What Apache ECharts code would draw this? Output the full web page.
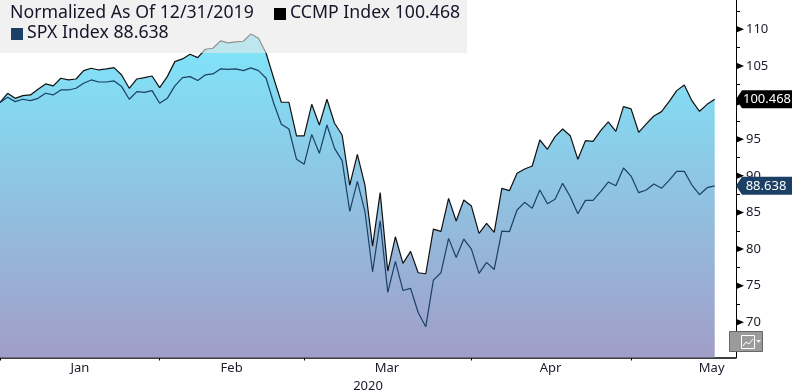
<!DOCTYPE html>
<html>
<head>
<meta charset="utf-8">
<style>
    html, body { margin: 0; padding: 0; background: #fff; }
    #main { width: 792px; height: 390px; }
</style>
<script src="https://cdn.jsdelivr.net/npm/echarts@6/dist/echarts.min.js"></script>
</head>
<body>
<div id="main"></div>
<script>
// 两条指数的归一化数值，每个交易日一个点，从 12/31/2019 开始
var ccmp_values = [
    100.00, 101.27, 100.58, 100.95, 101.04, 101.81, 102.54, 102.27, 103.32, 103.09,
    103.22, 104.36, 104.68, 104.45, 104.59, 104.77, 103.77, 101.95, 103.22, 103.41,
    103.63, 102.04, 103.54, 105.59, 105.96, 106.59, 106.14, 107.28, 107.41, 108.42,
    108.14, 108.28, 108.37, 109.37, 108.78, 106.73, 103.32, 100.05, 100.04, 95.44,
    95.44, 99.76, 96.94, 100.45, 97.17, 95.57, 88.74, 92.93, 88.74, 80.41,
    87.70, 77.00, 81.68, 78.04, 79.68, 76.77, 76.63, 82.73, 82.41, 86.92,
    83.83, 86.69, 85.87, 82.14, 83.51, 82.28, 88.29, 87.97, 90.34, 90.93,
    91.34, 94.89, 93.62, 95.35, 96.39, 95.48, 92.25, 94.80, 94.71, 96.17,
    97.35, 96.07, 99.44, 99.13, 95.94, 97.08, 98.17, 98.76, 100.13, 101.63,
    102.40, 100.26, 98.81, 99.76, 100.468
];
var spx_values = [
    100.00, 100.72, 100.13, 100.45, 100.26, 100.58, 101.27, 101.04, 101.72, 101.72,
    101.95, 102.63, 103.09, 102.81, 102.81, 102.95, 102.18, 100.45, 101.49, 101.40,
    101.63, 99.90, 100.58, 102.27, 103.41, 103.54, 103.00, 103.77, 103.91, 104.59,
    104.54, 104.59, 104.36, 104.73, 104.36, 103.32, 99.90, 97.03, 96.39, 92.25,
    91.57, 95.66, 93.07, 96.94, 93.75, 92.07, 85.15, 89.24, 85.10, 76.90,
    83.87, 74.08, 78.32, 74.35, 74.63, 71.35, 69.39, 75.77, 76.77, 81.46,
    78.86, 81.37, 80.00, 76.68, 78.18, 77.22, 82.46, 82.37, 85.33, 86.38,
    85.56, 88.06, 86.19, 86.79, 88.97, 87.15, 84.83, 86.65, 86.65, 87.83,
    89.15, 88.65, 91.07, 89.97, 87.70, 88.06, 88.88, 88.29, 89.38, 90.61,
    90.61, 88.74, 87.42, 88.38, 88.638
];

var month_names = ["Jan", "Feb", "Mar", "Apr", "May"];
var month_label_pos = [10.5, 30.46, 50.9, 72.4, 93.6]; // 月份文字的位置（交易日序号）
var month_end_ticks = [0, 21, 40, 62, 83]; // 每月最后一个交易日
var year_label = "2020";

var y_labels = [70, 75, 80, 85, 90, 95, 100, 105, 110];
var y_minor_ticks = [67.5, 70, 72.5, 75, 77.5, 80, 82.5, 85, 87.5, 90, 92.5, 95, 97.5, 100, 102.5, 105, 107.5, 110, 112.5];

var title_text = "Normalized As Of 12/31/2019";
var ccmp_name = "CCMP Index";
var spx_name = "SPX Index";
var ccmp_last = 100.468;
var spx_last = 88.638;

var x_last = 96.8; // 坐标轴右端，数据后面留一点空白
var font = "'Noto Sans', Tahoma, sans-serif";

function to_points(values) {
    var points = [];
    for (var i = 0; i < values.length; i++) {
        points.push([i, values[i]]);
    }
    return points;
}

var major_marks = [];
for (var i = 0; i < y_labels.length; i++) {
    major_marks.push([x_last, y_labels[i]]);
}

var myChart = echarts.init(document.getElementById('main'));

var option = {
    animation: false,
    textStyle: { fontFamily: font },
    grid: { left: 0, top: 0, width: 736, height: 357.5, outerBoundsMode: 'none' },
    xAxis: {
        type: 'value',
        min: 0,
        max: x_last,
        name: year_label,
        nameLocation: 'middle',
        nameGap: 16,
        nameTextStyle: { color: '#1a1a2a', fontSize: 13, fontFamily: font },
        splitLine: { show: false },
        axisLine: { lineStyle: { color: '#000', width: 1.5 } },
        axisTick: { customValues: month_end_ticks, length: 3, lineStyle: { color: '#000' } },
        axisLabel: {
            customValues: month_label_pos,
            margin: 4,
            color: '#1a1a2a',
            fontSize: 13,
            hideOverlap: false,
            formatter: function (value) {
                return month_names[month_label_pos.indexOf(value)];
            }
        }
    },
    yAxis: {
        type: 'value',
        position: 'right',
        min: 65.2,
        max: 114,
        splitLine: { show: false },
        axisLine: { show: true, onZero: false, lineStyle: { color: '#000', width: 1 } },
        axisTick: { customValues: y_minor_ticks, length: 4, lineStyle: { color: '#000' } },
        axisLabel: { customValues: y_labels, margin: 10, padding: [3, 0, 0, 0], color: '#1a1a2a', fontSize: 13 }
    },
    series: [
        {
            name: ccmp_name,
            type: 'line',
            data: to_points(ccmp_values),
            showSymbol: false,
            z: 3,
            lineStyle: { color: '#111', width: 1.2 },
            areaStyle: {
                opacity: 1,
                origin: 'start',
                color: {
                    type: 'linear',
                    global: true,
                    x: 0, y: 50, x2: 0, y2: 357,
                    colorStops: [
                        { offset: 0, color: '#80e3f8' },
                        { offset: 1, color: '#a19ec8' }
                    ]
                }
            }
        },
        {
            name: spx_name,
            type: 'line',
            data: to_points(spx_values),
            showSymbol: false,
            z: 4,
            lineStyle: { color: '#1c3f66', width: 1.2 }
        },
        {
            // 刻度旁的小三角
            type: 'scatter',
            data: major_marks,
            clip: false,
            silent: true,
            z: 5,
            symbol: 'path://M0 0 L8 4 L0 8 Z',
            symbolSize: [8, 7],
            symbolOffset: [4, 0],
            itemStyle: { color: '#000', opacity: 1 }
        },
        {
            type: 'scatter',
            data: [[x_last, ccmp_last]],
            clip: false,
            silent: true,
            z: 6,
            symbol: 'path://M6 0 L56 0 L56 18 L6 18 L0 9 Z',
            symbolSize: [56, 18],
            symbolOffset: [28, 0],
            itemStyle: { color: '#000', opacity: 1 },
            label: {
                show: true,
                position: 'inside',
                offset: [3, 0],
                color: '#fff',
                fontSize: 13,
                formatter: function () { return ccmp_last.toFixed(3); }
            }
        },
        {
            type: 'scatter',
            data: [[x_last, spx_last]],
            clip: false,
            silent: true,
            z: 6,
            symbol: 'path://M6 0 L56 0 L56 18 L6 18 L0 9 Z',
            symbolSize: [56, 18],
            symbolOffset: [28, 0],
            itemStyle: { color: '#1c3f66', opacity: 1 },
            label: {
                show: true,
                position: 'inside',
                offset: [2, 0],
                color: '#fff',
                fontSize: 13,
                formatter: function () { return spx_last.toFixed(3); }
            }
        }
    ],
    graphic: [
        // 图例的半透明底
        { type: 'rect', z: 100, shape: { x: 0, y: 0, width: 467, height: 53 }, style: { fill: 'rgba(232,232,232,0.6)' } },
        { type: 'text', z: 101, x: 10, y: 4, style: { text: title_text, fill: '#15152a', font: '17.7px ' + font } },
        { type: 'rect', z: 101, shape: { x: 274, y: 8, width: 12, height: 12 }, style: { fill: '#000' } },
        { type: 'text', z: 101, x: 290, y: 4, style: { text: ccmp_name + ' ' + ccmp_last.toFixed(3), fill: '#15152a', font: '17.7px ' + font } },
        { type: 'rect', z: 101, shape: { x: 11, y: 28, width: 12, height: 12 }, style: { fill: '#1c3f66' } },
        { type: 'text', z: 101, x: 27, y: 24, style: { text: spx_name + ' ' + spx_last.toFixed(3), fill: '#15152a', font: '17.7px ' + font } },
        // 右下角的小按钮
        { type: 'rect', z: 101, shape: { x: 729.5, y: 331.5, width: 33, height: 20 }, style: { fill: '#9b9b9b', stroke: '#666', lineWidth: 1 } },
        { type: 'rect', z: 102, shape: { x: 741.5, y: 335.5, width: 13, height: 13 }, style: { fill: 'none', stroke: '#fff', lineWidth: 1 } },
        { type: 'polyline', z: 102, shape: { points: [[743, 346], [746, 342], [749, 344], [753, 339]] }, style: { fill: 'none', stroke: '#fff', lineWidth: 1 } },
        { type: 'polygon', z: 102, shape: { points: [[756, 340], [761, 340], [758.5, 343]] }, style: { fill: '#eee' } }
    ]
};

myChart.setOption(option, true);
</script>
</body>
</html>
